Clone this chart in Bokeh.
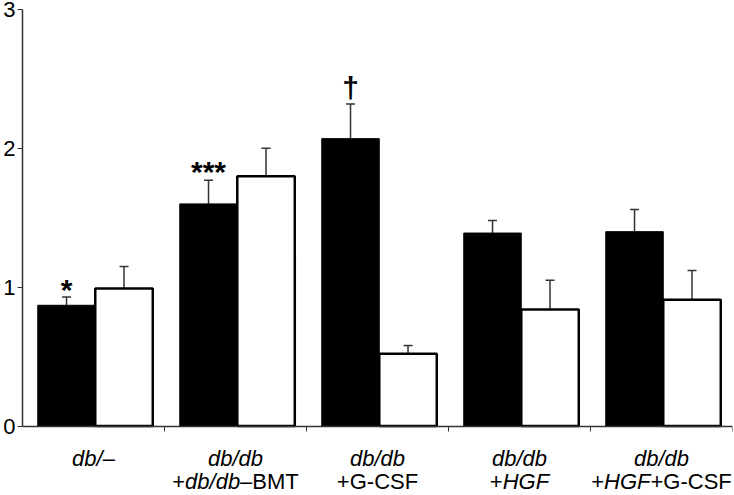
import numpy as np
from bokeh.plotting import figure
from bokeh.models import (ColumnDataSource, Range1d, FixedTicker, Whisker,
                          TeeHead)
from bokeh.core.properties import value
from bokeh.embed import file_html
from bokeh.resources import INLINE

# ---- data ----
line1 = [[("db/", True), ("\u2013", False)],
         [("db/db", True)],
         [("db/db", True)],
         [("db/db", True)],
         [("db/db", True)]]
line2 = [[],
         [("+", False), ("db/db", True), ("\u2013BMT", False)],
         [("+G-CSF", False)],
         [("+", False), ("HGF", True)],
         [("+", False), ("HGF", True), ("+G-CSF", False)]]
black_vals = [0.87, 1.60, 2.07, 1.39, 1.40]
black_err = [0.93, 1.77, 2.32, 1.48, 1.56]
white_vals = [0.99, 1.80, 0.52, 0.84, 0.91]
white_err = [1.15, 2.00, 0.58, 1.05, 1.12]
marks = ["*", "***", "\u2020", "", ""]
y_ticks = [0, 1, 2, 3]

FONT = "Liberation Sans"
FS = 22
# approximate Arial/Liberation Sans advance widths (em)
W = {"d": .556, "b": .556, "/": .278, "\u2013": .556, "+": .584, "B": .667,
     "M": .833, "T": .611, "G": .778, "-": .333, "C": .722, "S": .667,
     "F": .611, "H": .722, " ": .278}
MARK_OFF = {"*": -7, "***": -9, "\u2020": -16, "": 0}


def tw(s):
    return sum(W.get(c, .556) for c in s) * FS


n = len(black_vals)
idx = np.arange(n)
bw = 0.405
src_b = ColumnDataSource(dict(x=idx + 0.31, top=black_vals, err=black_err, mark=marks,
                              moff=[MARK_OFF[m] for m in marks]))
src_w = ColumnDataSource(dict(x=idx + 0.715, top=white_vals, err=white_err))

p = figure(width=733, height=495, output_backend="svg", toolbar_location=None,
           x_range=Range1d(0, n), y_range=Range1d(-0.5, 3),
           min_border_left=21, min_border_right=1, min_border_top=9,
           min_border_bottom=0)
p.outline_line_color = None
p.grid.visible = False
p.background_fill_color = "white"

p.vbar(x="x", top="top", width=bw, bottom=0, source=src_b,
       fill_color="black", line_color="black", line_width=1)
p.vbar(x="x", top="top", width=bw, bottom=0, source=src_w,
       fill_color="white", line_color="black", line_width=2.5)

for src in (src_b, src_w):
    p.add_layout(Whisker(source=src, base="x", lower="top", upper="err",
                         line_color="#333333", line_width=1.5,
                         lower_head=None,
                         upper_head=TeeHead(size=9, line_color="#333333", line_width=1.5)))

p.text(x="x", y="err", text="mark", source=src_b, text_align="center",
       text_baseline="alphabetic", y_offset="moff", text_font=value(FONT),
       text_font_size="30px", text_font_style="bold", text_color="black")

# axes
p.yaxis.ticker = FixedTicker(ticks=y_ticks)
p.yaxis.bounds = (0, 3)
p.yaxis.major_label_text_font = FONT
p.yaxis.major_label_text_font_size = "22px"
p.yaxis.major_label_text_color = "black"
p.yaxis.major_label_standoff = 2
p.yaxis.major_tick_out = 5
p.yaxis.major_tick_in = 0
p.yaxis.minor_tick_line_color = None
p.yaxis.axis_line_color = "#333333"
p.yaxis.major_tick_line_color = "#333333"
p.yaxis.axis_line_width = 1.5

p.xaxis.fixed_location = 0
p.xaxis.ticker = FixedTicker(ticks=list(range(1, n + 1)))
p.xaxis.major_label_text_font_size = "0px"
p.xaxis.major_label_text_color = None
p.xaxis.major_label_standoff = 0
p.xaxis.major_tick_out = 5
p.xaxis.major_tick_in = 0
p.xaxis.minor_tick_line_color = None
p.xaxis.axis_line_color = "#333333"
p.xaxis.major_tick_line_color = "#333333"
p.xaxis.axis_line_width = 1.5

# category labels with mixed italic segments (text glyphs)
seg = dict(x=[], y=[], xo=[], yo=[], t=[], style=[])
for i in range(n):
    for line, yoff in ((line1[i], 32), (line2[i], 55)):
        if not line:
            continue
        total = sum(tw(t) for t, _ in line)
        off = -total / 2
        for t, it in line:
            seg["x"].append(i + 0.5)
            seg["y"].append(0)
            seg["xo"].append(off)
            seg["yo"].append(yoff)
            seg["t"].append(t)
            seg["style"].append("italic" if it else "normal")
            off += tw(t)
p.text(x="x", y="y", text="t", x_offset="xo", y_offset="yo",
       text_font_style="style", source=ColumnDataSource(seg),
       text_font=value(FONT), text_font_size=f"{FS}px", text_align="left",
       text_baseline="alphabetic", text_color="black")

open("out.html", "w").write(file_html(p, INLINE))
